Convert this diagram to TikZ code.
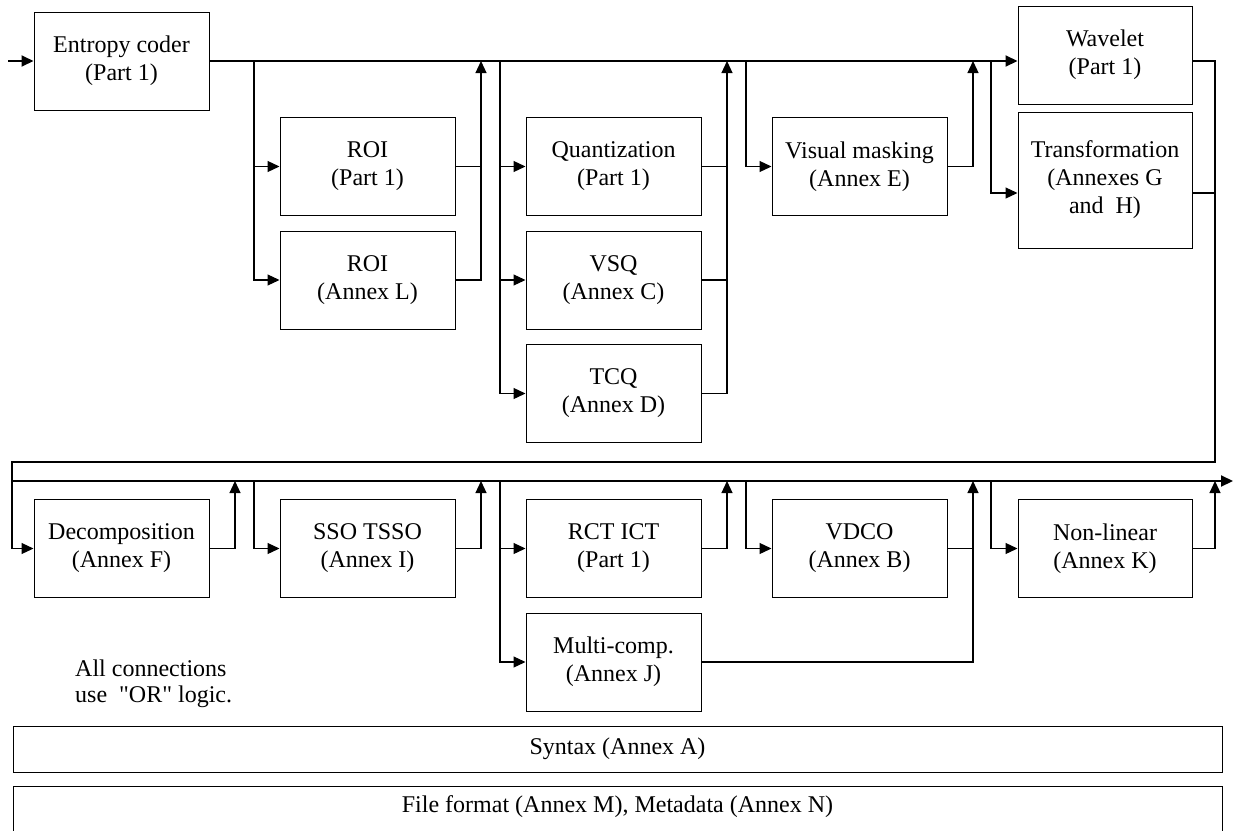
\documentclass[tikz,border=0pt]{standalone}
\usepackage{fontspec}
\setmainfont{Liberation Serif}[Ligatures=TeXOff]
\usetikzlibrary{arrows.meta}
\begin{document}
\begin{tikzpicture}[x=1pt,y=-1pt,
  blk/.style={draw, line width=1pt, minimum width=175pt, minimum height=98pt, inner sep=0pt, align=center, font=\fontsize{24}{28}\selectfont},
  wide/.style={draw, line width=1pt, minimum width=1209pt, minimum height=46pt, inner sep=0pt, font=\fontsize{24}{28}\selectfont},
  conn/.style={line width=1.2pt},
  bus/.style={line width=2pt},
  tip/.style={-{Triangle[length=12pt,width=11pt]}}
]
\useasboundingbox (0,0) rectangle (1234,830);
% row 1
\node[blk] (ent) at (121.5,61) {Entropy coder\\(Part 1)};
\node[blk] (roi1) at (367.5,166.5) {ROI\\(Part 1)};
\node[blk] (roiL) at (367.5,280) {ROI\\(Annex L)};
\node[blk] (quant) at (613.5,166.5) {Quantization\\(Part 1)};
\node[blk] (vsq) at (613.5,280) {VSQ\\(Annex C)};
\node[blk] (tcq) at (613.5,393.5) {TCQ\\(Annex D)};
\node[blk] (vis) at (859.5,166.5) {Visual masking\\(Annex E)};
\node[blk, minimum width=174pt] (wav) at (1105,55) {Wavelet\\(Part 1)};
\node[blk, minimum width=174pt, minimum height=136pt] (trans) at (1105,180) {Transformation\\(Annexes G\\and\ \ H)};
% row 2
\node[blk] (dec) at (121.5,548.5) {Decomposition\\(Annex F)};
\node[blk] (sso) at (367.5,548.5) {SSO TSSO\\(Annex I)};
\node[blk] (rct) at (613.5,548.5) {RCT ICT\\(Part 1)};
\node[blk] (multi) at (613.5,662) {Multi-comp.\\(Annex J)};
\node[blk] (vdco) at (859.5,548.5) {VDCO\\(Annex B)};
\node[blk, minimum width=174pt] (nonlin) at (1105,548.5) {Non-linear\\(Annex K)};
% bottom
\node[wide] (syn) at (617.5,749) {Syntax (Annex A)};
\node[wide, minimum height=60pt] (file) at (617.5,816) {};
\node[font=\fontsize{24}{28}\selectfont] (filetxt) at (617.5,807) {File format (Annex M), Metadata (Annex N)};
\node[align=left, anchor=west, inner sep=0pt, font=\fontsize{24}{26}\selectfont] (note) at (75,684) {All connections\\use\ \ "OR" logic.};

% coordinates row 1
\coordinate (in) at (8,61);
\coordinate (b1) at (254,61);
\coordinate (u1) at (481,61);
\coordinate (b2) at (500,61);
\coordinate (u2) at (727,61);
\coordinate (b3) at (746,61);
\coordinate (u3) at (973,61);
\coordinate (b4) at (991,61);
\coordinate (r1) at (1215,61);
\coordinate (r2) at (1215,462);
\coordinate (l1) at (12,462);
% coordinates row 2
\coordinate (l2) at (12,481);
\coordinate (c1) at (235,481);
\coordinate (d1) at (254,481);
\coordinate (c2) at (481,481);
\coordinate (d2) at (500,481);
\coordinate (c3) at (727,481);
\coordinate (d3) at (746,481);
\coordinate (c4) at (973,481);
\coordinate (d4) at (991,481);
\coordinate (c5) at (1215,481);
\coordinate (out) at (1233,481);

% bus 1
\draw[bus,tip] (in) -- (ent.west);
\draw[bus,tip] (ent.east) -- (ent.east -| wav.west);
% ROI stage
\draw[conn,tip] (b1) |- (roi1.west);
\draw[conn,tip] (b1) |- (roiL.west);
\draw[conn] (roi1.east) -- (roi1.east -| u1);
\draw[conn,tip] (roiL.east) -| (u1);
% quantization stage
\draw[conn,tip] (b2) |- (quant.west);
\draw[conn,tip] (b2) |- (vsq.west);
\draw[conn,tip] (b2) |- (tcq.west);
\draw[conn] (quant.east) -- (quant.east -| u2);
\draw[conn] (vsq.east) -- (vsq.east -| u2);
\draw[conn,tip] (tcq.east) -| (u2);
% visual masking
\draw[conn,tip] (b3) |- (vis.west);
\draw[conn,tip] (vis.east) -| (u3);
% transformation
\draw[conn,tip] (b4) |- ([yshift=-13pt]trans.west);
\draw[conn] ([yshift=-13pt]trans.east) -- ([yshift=-13pt]trans.east -| r1);
\draw[conn,tip] (wav.east |- r1) -- (r1) -- (r2) -- (l1) |- (dec.west);

% bus 2
\draw[bus,tip] (l2) -- (out);
\draw[conn,tip] (dec.east) -| (c1);
\draw[conn,tip] (d1) |- (sso.west);
\draw[conn,tip] (sso.east) -| (c2);
\draw[conn,tip] (d2) |- (rct.west);
\draw[conn,tip] (d2) |- (multi.west);
\draw[conn,tip] (rct.east) -| (c3);
\draw[conn,tip] (d3) |- (vdco.west);
\draw[conn] (vdco.east) -- (vdco.east -| c4);
\draw[conn,tip] (multi.east) -| (c4);
\draw[conn,tip] (d4) |- (nonlin.west);
\draw[conn,tip] (nonlin.east) -| (c5);
\end{tikzpicture}
\end{document}
